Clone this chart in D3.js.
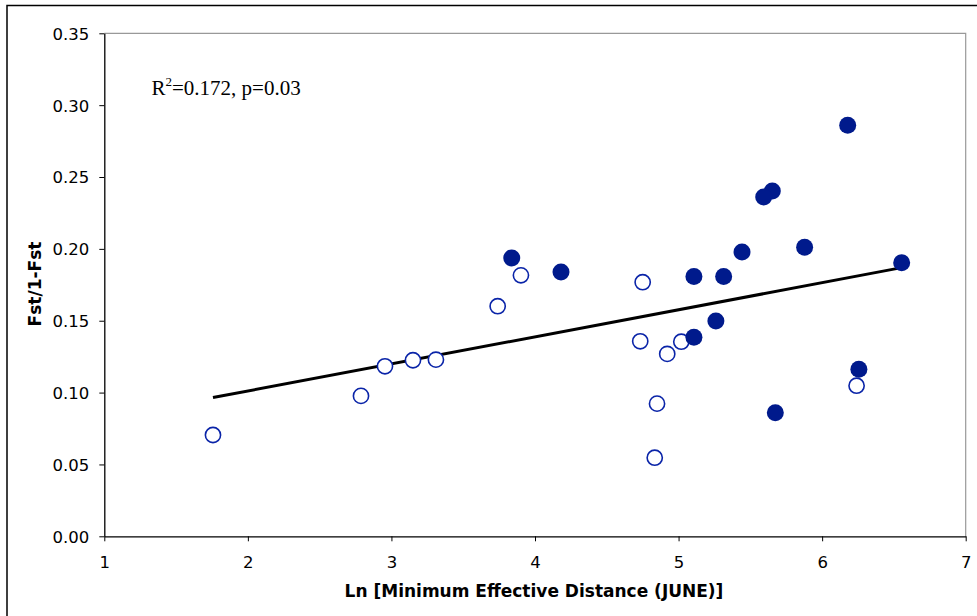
<!DOCTYPE html>
<html>
<head>
<meta charset="utf-8">
<script src="https://cdn.jsdelivr.net/npm/d3@7"></script>
<style>
  body { margin: 0; background: #fff; }
  svg { display: block; }
</style>
</head>
<body>
<svg id="chart" width="977" height="616"></svg>
<script>
// open circles (one group) and filled circles (other group): [ln distance, Fst/1-Fst]
var openX = [1.757, 2.788, 2.955, 3.150, 3.310, 3.740, 3.902, 4.750, 4.733, 4.921, 5.019, 4.850, 4.834, 6.240];
var openY = [0.0705, 0.0977, 0.1183, 0.1225, 0.1229, 0.1601, 0.1816, 0.1768, 0.1357, 0.1269, 0.1354, 0.0923, 0.0547, 0.1048];
var filledX = [3.838, 4.181, 5.107, 5.314, 5.442, 5.260, 5.107, 6.178, 5.653, 5.593, 5.878, 6.554, 5.674, 6.256];
var filledY = [0.1937, 0.1839, 0.1807, 0.1807, 0.1978, 0.1498, 0.1385, 0.2860, 0.2403, 0.2361, 0.2011, 0.1904, 0.0860, 0.1163];
var xTicks = [1, 2, 3, 4, 5, 6, 7];
var yTicks = [0, 0.05, 0.10, 0.15, 0.20, 0.25, 0.30, 0.35];
var trend = { slope: 0.01885, intercept: 0.0634 }; // as drawn in the picture
var note = { text: 'R', sup: '2', rest: '=0.172, p=0.03' };

var svg = d3.select('#chart');
var plotLeft = 104.3, plotRight = 965.7, plotTop = 33.3, plotBottom = 536.3;
var dotColor = '#001a8c';

var x = d3.scaleLinear().domain([1, 7]).range([plotLeft, plotRight]);
var y = d3.scaleLinear().domain([0, 0.35]).range([plotBottom, plotTop]);

// outer border of the chart object (runs off the picture at right/bottom)
svg.append('rect')
  .attr('x', 7).attr('y', 5.5)
  .attr('width', 1000).attr('height', 1000)
  .attr('fill', 'none').attr('stroke', '#000').attr('stroke-width', 1.5);

// plot frame: grey top and right
svg.append('path')
  .attr('d', 'M' + plotLeft + ',' + plotTop + 'H' + plotRight + 'V' + plotBottom)
  .attr('fill', 'none').attr('stroke', '#999').attr('stroke-width', 1.2);

var fontTick = "'DejaVu Sans', Verdana, sans-serif";

var xAxis = svg.append('g')
  .attr('transform', 'translate(0,' + plotBottom + ')')
  .call(d3.axisBottom(x).tickValues(xTicks).tickFormat(d3.format('d')).tickSize(5).tickSizeOuter(0));
var yAxis = svg.append('g')
  .attr('transform', 'translate(' + plotLeft + ',0)')
  .call(d3.axisLeft(y).tickValues(yTicks).tickFormat(d3.format('.2f')).tickSize(5).tickSizeOuter(0));

[xAxis, yAxis].forEach(function(g) {
  g.select('.domain').attr('stroke', '#000').attr('stroke-width', 1.3);
  g.selectAll('.tick line').attr('stroke', '#000').attr('stroke-width', 1);
  g.selectAll('.tick text')
    .attr('fill', '#000')
    .style('font-family', fontTick)
    .style('font-size', '16.5px');
});
xAxis.selectAll('.tick text').attr('dy', '0').attr('y', 32);
yAxis.selectAll('.tick text').attr('x', -15).attr('dy', '0.36em');

// axis titles
svg.append('text')
  .attr('x', 534).attr('y', 597)
  .attr('text-anchor', 'middle')
  .style('font-family', fontTick).style('font-weight', 'bold').style('font-size', '17px')
  .text('Ln [Minimum Effective Distance (JUNE)]');
svg.append('text')
  .attr('transform', 'translate(41,' + 284 + ') rotate(-90)')
  .attr('text-anchor', 'middle')
  .style('font-family', fontTick).style('font-weight', 'bold').style('font-size', '17px')
  .text('Fst/1-Fst');

// regression line over the range of the data
var allX = openX.concat(filledX);
var xExt = d3.extent(allX);
var line = d3.line().x(function(d) { return x(d); }).y(function(d) { return y(trend.intercept + trend.slope * d); });
svg.append('path')
  .datum(xExt)
  .attr('d', line)
  .attr('fill', 'none').attr('stroke', '#000').attr('stroke-width', 3);

// points
var openPts = openX.map(function(v, i) { return [v, openY[i]]; });
var filledPts = filledX.map(function(v, i) { return [v, filledY[i]]; });

svg.append('g').selectAll('circle').data(openPts).enter().append('circle')
  .attr('cx', function(d) { return x(d[0]); })
  .attr('cy', function(d) { return y(d[1]); })
  .attr('r', 7.6)
  .attr('fill', '#fff').attr('stroke', '#0a24a8').attr('stroke-width', 1.6);

svg.append('g').selectAll('circle').data(filledPts).enter().append('circle')
  .attr('cx', function(d) { return x(d[0]); })
  .attr('cy', function(d) { return y(d[1]); })
  .attr('r', 8.5)
  .attr('fill', dotColor);

// annotation
var ann = svg.append('text')
  .attr('x', 151.5).attr('y', 95)
  .style('font-family', "'Liberation Serif', 'Times New Roman', serif")
  .style('font-size', '21px')
  .attr('fill', '#000');
ann.append('tspan').text(note.text);
ann.append('tspan').attr('dy', -9).style('font-size', '13px').text(note.sup);
ann.append('tspan').attr('dy', 9).text(note.rest);
</script>
</body>
</html>
